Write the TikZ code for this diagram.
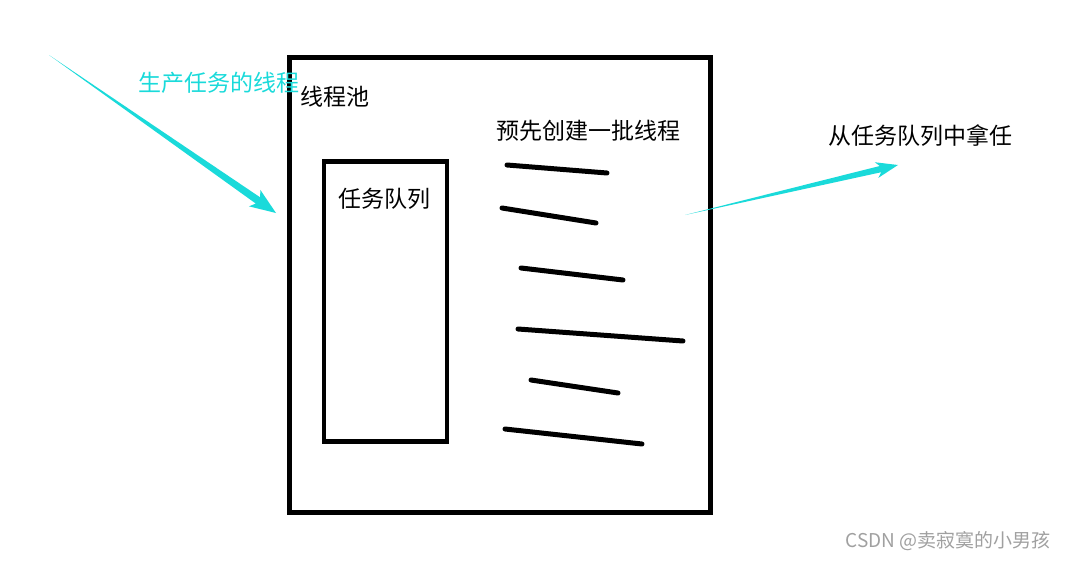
\documentclass[tikz,border=0pt]{standalone}
\usepackage{fontspec}
\setmainfont{Noto Sans CJK SC}
\usepackage{xcolor}
\usetikzlibrary{calc}
\definecolor{arrowcyan}{RGB}{26,218,218}
\definecolor{markgray}{RGB}{160,160,160}

\begin{document}
\begin{tikzpicture}[x=1pt, y=-1pt]
            \tikzset{
                pool_box/.style={draw, shape = rectangle, line width=4.5pt, minimum width=421pt, minimum height=455pt},
                queue_box/.style={draw, shape = rectangle, line width=4.5pt, minimum width=123pt, minimum height=280pt},
                label/.style={inner sep=0pt, font=\fontsize{23}{23}\selectfont},
                thread_line/.style={line width=5pt, line cap=round}
            }
            \useasboundingbox (0,0) rectangle (1069,562);

            \node[pool_box] (pool) at (500,285) {};
            \node[queue_box] (queue) at (385.5,301.5) {};

            \node[label] (poolname) at (334.5,97) {线程池};
            \node[label] (queuename) at (384.5,198.5) {任务队列};
            \node[label] (pre) at (588,131) {预先创建一批线程};
            \node[label] (take) at (920,135.5) {从任务队列中拿任};
            \node[label, text=arrowcyan] (producer) at (219,83) {生产任务的线程};
            \node[inner sep=0pt, text=markgray, font=\fontsize{19}{19}\selectfont] (mark) at (948,541) {CSDN @卖寂寞的小男孩};

            % threads
            \foreach \xa/\ya/\xb/\yb in {507/165/607/173, 502/208/596/223, 521/268/623/280,
                                         518/329/683/341, 531/380/618/393, 505/429/642/444}
                \draw[thread_line] (\xa,\ya) -- (\xb,\yb);

            % tapered arrows
            \coordinate (in_start) at (49,55);
            \coordinate (in_tip) at (276,213);
            \coordinate (out_start) at (685,215);
            \coordinate (out_tip) at (898,165);
            \foreach \s/\t/\w/\hl/\hw in {in_start/in_tip/3.8/22/10, out_start/out_tip/3.2/18/8}{
                \coordinate (h) at ($(\t)!\hl pt!(\s)$);
                \coordinate (b) at ($(\t)!\hl pt+4pt!(\s)$);
                \fill[arrowcyan] (\s) -- ($(h)!\w pt!90:(\t)$) -- ($(b)!\hw pt!90:(\t)$) -- (\t)
                    -- ($(b)!\hw pt!-90:(\t)$) -- ($(h)!\w pt!-90:(\t)$) -- cycle;
            }
        \end{tikzpicture}
\end{document}
